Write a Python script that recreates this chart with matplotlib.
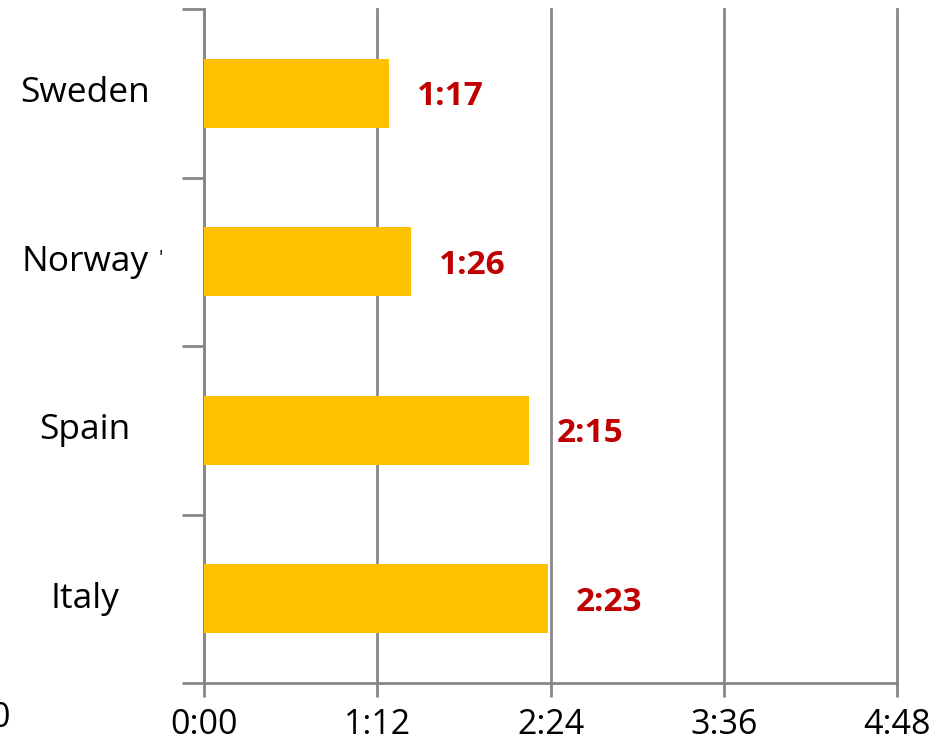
import matplotlib
matplotlib.use("Agg")
import matplotlib.pyplot as plt
from matplotlib.transforms import blended_transform_factory

countries = ["Sweden", "Norway", "Spain", "Italy"]
minutes = [77, 86, 135, 143]          # durations in minutes
tick_minutes = [0, 72, 144, 216, 288]
tick_labels = ["0:00", "1:12", "2:24", "3:36", "4:48"]


def fmt(m):
    return f"{m // 60}:{m % 60:02d}"


plt.rcParams["font.family"] = ["Open Sans", "DejaVu Sans"]
W, H = 947, 749
fig = plt.figure(figsize=(W / 100, H / 100), dpi=100)
ax = fig.add_axes([204 / W, 1 - 683 / H, (897 - 204) / W, (683 - 9) / H])

grey = "#878787"
ypos = list(range(len(countries)))[::-1]  # Sweden at the top
ax.barh(ypos, minutes, height=0.41, color="#FFC000", zorder=3)

ax.set_xlim(0, 288)
ax.set_ylim(-0.5, len(countries) - 0.5)

# vertical gridlines
ax.set_xticks(tick_minutes)
ax.set_xticklabels(tick_labels, fontsize=24.5)
ax.xaxis.grid(True, color=grey, linewidth=2, zorder=1)
for gl in ax.get_xgridlines():
    gl.set_clip_on(False)
ax.tick_params(axis="x", length=10, width=2, color=grey, pad=8)

# category boundary ticks on the y axis
ax.set_yticks([i - 0.5 for i in range(len(countries) + 1)])
ax.set_yticklabels([])
ax.tick_params(axis="y", length=16, width=2, color=grey)

for side in ["top", "right"]:
    ax.spines[side].set_visible(False)
for side in ["left", "bottom"]:
    ax.spines[side].set_color(grey)
    ax.spines[side].set_linewidth(2)

# category names centred in the left margin
tr = blended_transform_factory(fig.transFigure, ax.transData)
for name, y in zip(countries, ypos):
    ax.text(85 / W, y, name, transform=tr, ha="center", va="center",
            fontsize=25.5, clip_on=False)
ax.text(161 / W, ypos[1] + 0.02, "'", transform=tr, ha="center", va="center",
        fontsize=14, clip_on=False)

# value labels
for m, y in zip(minutes, ypos):
    ax.text(m + 11.5, y - 0.02, fmt(m), ha="left", va="center",
            fontsize=24, fontweight="bold", color="#C00000")

# partially visible label at the far left
fig.text(0 / W, 1 - 718 / H, "0", ha="center", va="center", fontsize=24.5)

fig.savefig("out.png", dpi=100)
